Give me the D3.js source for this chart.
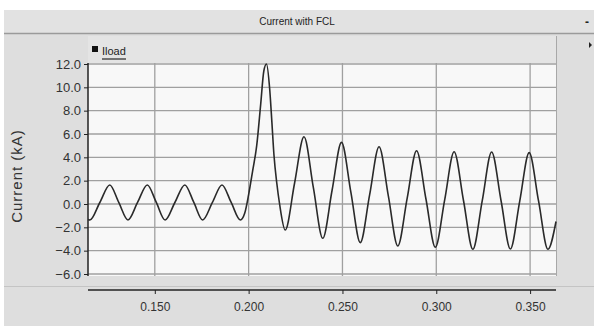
<!DOCTYPE html>
<html>
<head>
<meta charset="utf-8">
<script src="https://cdn.jsdelivr.net/npm/d3@7"></script>
<style>
  html, body { margin: 0; padding: 0; background: #fff; }
  svg text { font-family: "Liberation Sans", Arial, sans-serif; }
</style>
</head>
<body>
<svg id="chart" width="594" height="326"></svg>
<script>
// data (time in s, current in kA)
const timeS = [
  0.1144, 0.1154, 0.1207, 0.1260, 0.1308, 0.1357, 0.1408, 0.1460, 0.1508,
  0.1555, 0.1607, 0.1660, 0.1708, 0.1755, 0.1807, 0.1858, 0.1907, 0.1956,
  0.1979, 0.2000, 0.2021, 0.2043, 0.2064, 0.2081, 0.2095, 0.2112, 0.2124,
  0.2135, 0.2150, 0.2165, 0.2195, 0.2245, 0.2295, 0.2345, 0.2395, 0.2445,
  0.2495, 0.2545, 0.2595, 0.2645, 0.2695, 0.2745, 0.2795, 0.2845, 0.2895,
  0.2945, 0.2995, 0.3045, 0.3095, 0.3145, 0.3195, 0.3245, 0.3295, 0.3345,
  0.3395, 0.3445, 0.3495, 0.3545, 0.3595, 0.3638
];
const iloadKA = [
  -1.33, -1.37, 0.13, 1.63, 0.13, -1.37, 0.13, 1.63, 0.13,
  -1.37, 0.13, 1.63, 0.13, -1.37, 0.13, 1.63, 0.13, -1.37,
  -0.8, 0.8, 2.8, 5.0, 8.5, 11.4, 12.0, 9.9, 7.0,
  4.2, 1.8, 0.0, -2.23, 1.8, 5.77, 1.4, -2.94, 1.2,
  5.28, 1.0, -3.31, 0.8, 4.91, 0.65, -3.6, 0.5, 4.57,
  0.43, -3.71, 0.38, 4.48, 0.3, -3.88, 0.29, 4.46, 0.3,
  -3.86, 0.27, 4.40, 0.26, -3.88, -1.5
];
const xTicks = [0.150, 0.200, 0.250, 0.300, 0.350];
const yTicks = [-6, -4, -2, 0, 2, 4, 6, 8, 10, 12];
const titleText = "Current with FCL";
const seriesName = "Iload";
const yLabel = "Current (kA)";

const svg = d3.select("#chart");
const plot = {left: 88, right: 556, top: 63, bottom: 276};

// window background
svg.append("rect").attr("x", 4).attr("y", 10).attr("width", 590).attr("height", 316).attr("fill", "#dedede");
svg.append("rect").attr("x", 4).attr("y", 10).attr("width", 590).attr("height", 23).attr("fill", "#e2e2e2");
svg.append("line").attr("x1", 4).attr("x2", 594).attr("y1", 33.5).attr("y2", 33.5).attr("stroke", "#9a9a9a").attr("stroke-width", 1.5);
svg.append("text").attr("x", 297).attr("y", 25).attr("text-anchor", "middle")
  .style("font-size", "10px").attr("fill", "#222").text(titleText);
svg.append("text").attr("x", 587).attr("y", 26).attr("text-anchor", "middle")
  .style("font-size", "12px").style("font-weight", "bold").attr("fill", "#222").text("-");
svg.append("path").attr("d", "M589,42 L592,45 L589,48 Z").attr("fill", "#222");

// legend strip
svg.append("rect").attr("x", plot.left).attr("y", 36).attr("width", plot.right - plot.left).attr("height", plot.top - 36)
  .attr("fill", "#e4e4e4");
svg.append("line").attr("x1", plot.right + 0.5).attr("x2", plot.right + 0.5).attr("y1", 36).attr("y2", plot.bottom)
  .attr("stroke", "#a8a8a8");
svg.append("rect").attr("x", 92).attr("y", 46).attr("width", 6).attr("height", 6).attr("fill", "#111");
svg.append("text").attr("x", 102).attr("y", 55).style("font-size", "11px").attr("fill", "#222").text(seriesName);
svg.append("line").attr("x1", 102).attr("x2", 126).attr("y1", 59).attr("y2", 59).attr("stroke", "#333").attr("stroke-width", 1.3);

// plot background
svg.append("rect").attr("x", plot.left).attr("y", plot.top).attr("width", plot.right - plot.left)
  .attr("height", plot.bottom - plot.top).attr("fill", "#f8f8f8");

// bottom band
svg.append("line").attr("x1", 4).attr("x2", 594).attr("y1", 286.5).attr("y2", 286.5).attr("stroke", "#c4c4c4");

const x = d3.scaleLinear().domain([0.1144, 0.3638]).range([plot.left, plot.right]);
const y = d3.scaleLinear().domain([-6, 12]).range([274, 64]);

// grid
svg.append("g").selectAll("line").data(yTicks).enter().append("line")
  .attr("x1", plot.left).attr("x2", plot.right)
  .attr("y1", d => y(d)).attr("y2", d => y(d))
  .attr("stroke", "#a0a0a0").attr("stroke-width", 1.3);
svg.append("g").selectAll("line").data(xTicks).enter().append("line")
  .attr("x1", d => x(d)).attr("x2", d => x(d))
  .attr("y1", plot.top).attr("y2", plot.bottom)
  .attr("stroke", "#a0a0a0").attr("stroke-width", 1.3);

// axes
const yAxis = svg.append("g").attr("transform", "translate(" + plot.left + ",0)")
  .call(d3.axisLeft(y).tickValues(yTicks).tickFormat(d3.format(".1f")).tickSize(4).tickPadding(3));
yAxis.select(".domain").attr("d", "M0," + plot.top + "V" + plot.bottom).attr("stroke", "#222").attr("stroke-width", 1.5);
yAxis.selectAll("text").style("font-size", "13px").attr("fill", "#333");
yAxis.selectAll(".tick line").attr("stroke", "#222");

const xAxis = svg.append("g").attr("transform", "translate(0,290)")
  .call(d3.axisBottom(x).tickValues(xTicks).tickFormat(d3.format(".3f")).tickSize(4).tickPadding(8));
xAxis.select(".domain").attr("d", "M" + plot.left + ",0H" + plot.right).attr("stroke", "#222").attr("stroke-width", 1.5);
xAxis.selectAll("text").style("font-size", "12px").attr("fill", "#333");
xAxis.selectAll(".tick line").attr("stroke", "#222");

svg.append("text").attr("transform", "translate(22,176) rotate(-90)").attr("text-anchor", "middle")
  .style("font-size", "15px").style("letter-spacing", "1px").attr("fill", "#333").text(yLabel);

// series
const pts = timeS.map((t, i) => [t, iloadKA[i]]);
const line = d3.line().x(d => x(d[0])).y(d => y(d[1])).curve(d3.curveMonotoneX);
svg.append("path").datum(pts).attr("d", line)
  .attr("fill", "none").attr("stroke", "#2a2a2a").attr("stroke-width", 1.6);
</script>
</body>
</html>
